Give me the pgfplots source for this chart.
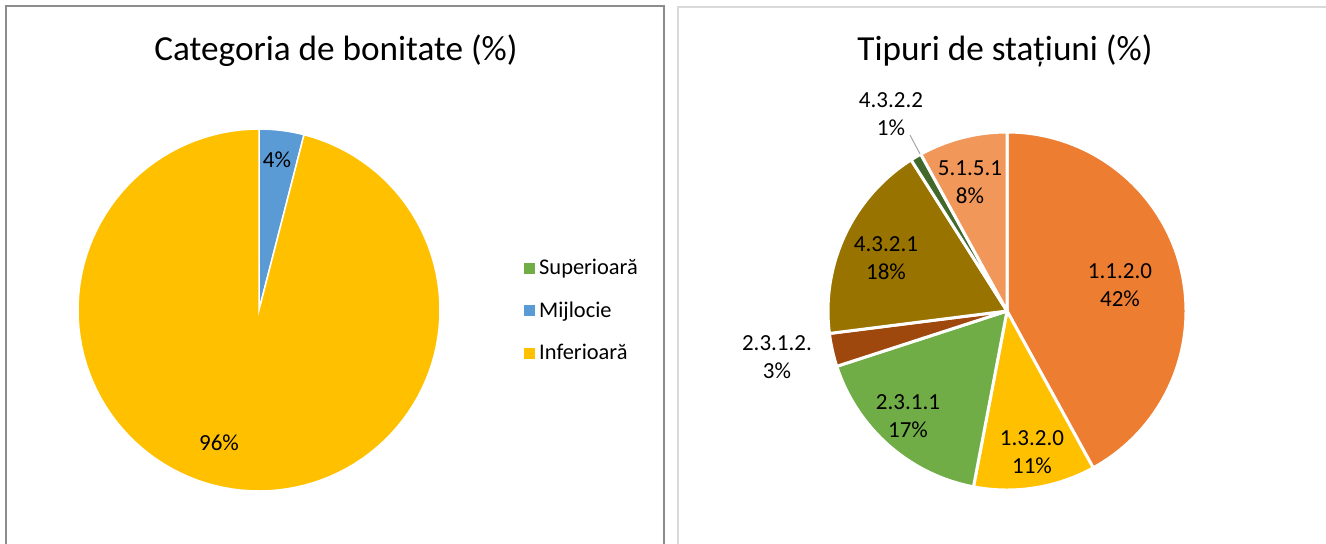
\documentclass[border=0pt]{standalone}
\usepackage{pgfplots}
\pgfplotsset{compat=1.18}
\usepackage{fontspec}
\setmainfont{Carlito}

\definecolor{cOrange}{HTML}{ED7D31}
\definecolor{cGold}{HTML}{FFC000}
\definecolor{cGreen}{HTML}{70AD47}
\definecolor{cBlue}{HTML}{5B9BD5}
\definecolor{cBrown}{HTML}{9E480E}
\definecolor{cOlive}{HTML}{997300}
\definecolor{cDkGreen}{HTML}{43682B}
\definecolor{cLtOrange}{HTML}{F1975A}
\definecolor{cBorderL}{HTML}{8C8C8C}
\definecolor{cBorderR}{HTML}{D9D9D9}

% #1 options, #2 cx, #3 cy, #4 r, #5 cumulative %, #6 value %, #7 colour
\newcommand{\slice}[7][]{%
  \pgfmathsetmacro{\aS}{90-3.6*(#5)}%
  \pgfmathsetmacro{\aE}{90-3.6*(#5+#6)}%
  \addplot[fill=#7, draw=white, domain=\aE:\aS, samples=120, #1]
    ({#2+#4*cos(x)}, {#3-#4*sin(x)}) -- (axis cs:#2,#3) -- cycle;
}

\begin{document}
\begin{tikzpicture}
\begin{axis}[
  x=0.5pt, y=0.5pt, y dir=reverse,
  xmin=0, xmax=1326, ymin=0, ymax=543,
  hide axis, scale only axis, clip=false,
  legend image code/.code={\fill[#1,draw=none] (0pt,-2.75pt) rectangle (5.5pt,2.75pt);},
  legend style={draw=none, fill=none, at={(0.3905,0.538)}, anchor=north west,
    row sep=8pt, font=\fontsize{11.2}{13}\selectfont, cells={anchor=west}},
]
% panel borders
\draw[line width=0.75pt, cBorderL] (axis cs:6,560) -- (axis cs:6,6) -- (axis cs:664,6) -- (axis cs:664,560);
\draw[line width=0.75pt, cBorderR] (axis cs:678,560) -- (axis cs:678,7) -- (axis cs:1340,7);

% ---- left pie: Superioara 0, Mijlocie 4, Inferioara 96
\addlegendimage{fill=cGreen}
\addlegendentry{Superioară}
\slice[line width=0.75pt]{259}{310}{181}{0}{4}{cBlue}
\addlegendentry{Mijlocie}
\slice[line width=0.75pt]{259}{310}{181}{4}{96}{cGold}
\addlegendentry{Inferioară}

% ---- right pie
\slice[line width=1.5pt, forget plot]{1007}{311}{179}{0}{42}{cOrange}
\slice[line width=1.5pt, forget plot]{1007}{311}{179}{42}{11}{cGold}
\slice[line width=1.5pt, forget plot]{1007}{311}{179}{53}{17}{cGreen}
\slice[line width=1.5pt, forget plot]{1007}{311}{179}{70}{3}{cBrown}
\slice[line width=1.5pt, forget plot]{1007}{311}{179}{73}{18}{cOlive}
\slice[line width=1.5pt, forget plot]{1007}{311}{179}{91}{1}{cDkGreen}
\slice[line width=1.5pt, forget plot]{1007}{311}{179}{92}{8}{cLtOrange}

% titles
\node[font=\fontsize{17.6}{20}\selectfont] at (axis cs:336,51) {Categoria de bonitate (\%)};
\node[font=\fontsize{17.6}{20}\selectfont] at (axis cs:1005,51) {Tipuri de stațiuni (\%)};

% data labels
\begin{scope}[every node/.style={font=\fontsize{11.5}{14}\selectfont, align=center, inner sep=0pt}]
\node at (axis cs:277,160) {4\%};
\node at (axis cs:219,443) {96\%};
\node at (axis cs:1120,285) {1.1.2.0\\42\%};
\node at (axis cs:1032,452) {1.3.2.0\\11\%};
\node at (axis cs:908,416) {2.3.1.1\\17\%};
\node at (axis cs:777,357) {2.3.1.2.\\3\%};
\node at (axis cs:886,258) {4.3.2.1\\18\%};
\node at (axis cs:891,114) {4.3.2.2\\1\%};
\node at (axis cs:970,182) {5.1.5.1\\8\%};
\end{scope}
\draw[gray!70, line width=0.5pt] (axis cs:910,135) -- (axis cs:920,154);

\coordinate (bbA) at (axis cs:0,0);
\coordinate (bbB) at (axis cs:1326,543);
\end{axis}
\pgfresetboundingbox
\useasboundingbox (bbA) rectangle (bbB);
\end{tikzpicture}
\end{document}
